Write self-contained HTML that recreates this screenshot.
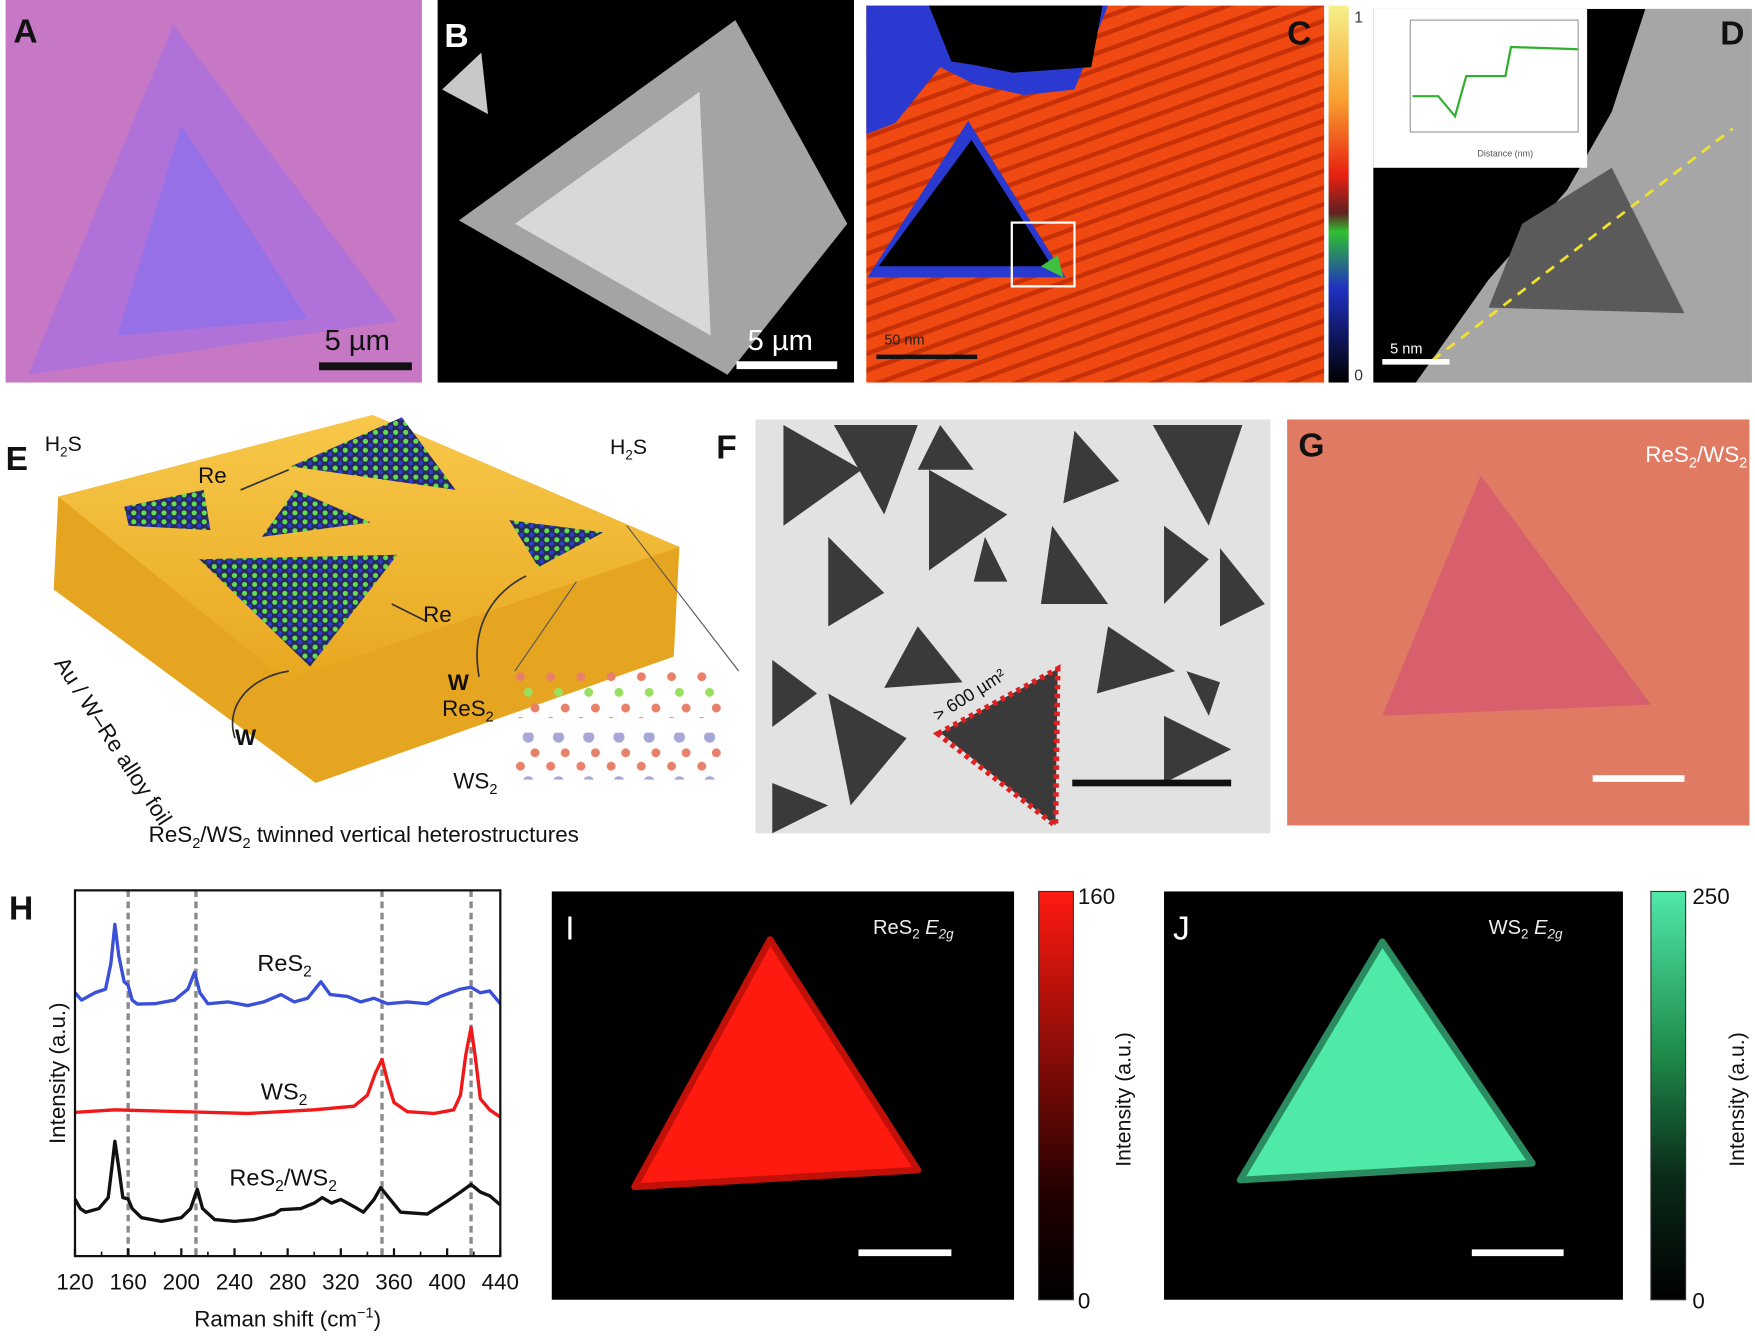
<!DOCTYPE html>
<html><head><meta charset="utf-8"><style>
html,body{margin:0;padding:0;background:#fff;}
svg{display:block;font-family:"Liberation Sans",Arial,sans-serif;}
</style></head><body>
<svg id="fig" width="1755" height="1340" viewBox="0 0 1568 1198" preserveAspectRatio="none">
<defs>
<linearGradient id="cbC" x1="0" y1="0" x2="0" y2="1"><stop offset="0" stop-color="#f6f08a"/><stop offset="0.25" stop-color="#f8a030"/><stop offset="0.45" stop-color="#e82010"/><stop offset="0.55" stop-color="#602020"/><stop offset="0.6" stop-color="#30c030"/><stop offset="0.75" stop-color="#2030c0"/><stop offset="1" stop-color="#000"/></linearGradient>
<linearGradient id="cbI" x1="0" y1="0" x2="0" y2="1"><stop offset="0" stop-color="#ff1a10"/><stop offset="0.75" stop-color="#200000"/><stop offset="1" stop-color="#000"/></linearGradient>
<linearGradient id="cbJ" x1="0" y1="0" x2="0" y2="1"><stop offset="0" stop-color="#50e8a8"/><stop offset="0.4" stop-color="#1e8a4a"/><stop offset="0.7" stop-color="#0a2a18"/><stop offset="1" stop-color="#000"/></linearGradient>
<linearGradient id="gold" x1="0" y1="0" x2="0" y2="1"><stop offset="0" stop-color="#f8c84a"/><stop offset="1" stop-color="#e8a820"/></linearGradient>
<pattern id="stripes" width="14" height="14" patternUnits="userSpaceOnUse" patternTransform="rotate(-20)"><rect width="14" height="14" fill="#f04a12"/><rect width="14" height="4" fill="#c83008"/></pattern>
<pattern id="lat" width="9" height="8" patternUnits="userSpaceOnUse"><rect width="9" height="8" fill="#2a2a5a"/><circle cx="2.5" cy="2.5" r="2.3" fill="#60e050"/><circle cx="7" cy="6" r="2" fill="#2840d0"/></pattern>
<pattern id="rowdots" width="27" height="40" patternUnits="userSpaceOnUse"><circle cx="6" cy="5" r="4" fill="#e8806a"/><circle cx="19" cy="33" r="4" fill="#e8806a"/><circle cx="13" cy="19" r="4" fill="#9ae060"/></pattern>
<pattern id="rowdots2" width="27" height="40" patternUnits="userSpaceOnUse"><circle cx="6" cy="5" r="4" fill="#e8806a"/><circle cx="19" cy="33" r="4" fill="#e8806a"/><circle cx="13" cy="19" r="5" fill="#a8a8d8"/></pattern>
</defs>

<!-- Panel A -->
<g>
<rect x="5" y="0" width="372" height="342" fill="#c678c4"/>
<polygon points="155,22 25,335 355,287" fill="#b072d8"/>
<polygon points="162,112 105,300 275,285" fill="#9670e6"/>
<text x="12" y="38" font-size="30" font-weight="bold" fill="#111">A</text>
<text x="290" y="313" font-size="26" fill="#111">5 µm</text>
<rect x="285" y="324" width="83" height="7" fill="#111"/>
</g>

<!-- Panel B -->
<g>
<rect x="391" y="0" width="372" height="342" fill="#000"/>
<polygon points="657,18 410,197 650,335 757,200" fill="#a4a4a4"/>
<polygon points="625,82 460,200 635,300" fill="#d8d8d8"/>
<polygon points="395,80 430,47 436,102" fill="#c8c8c8"/>
<text x="397" y="42" font-size="30" font-weight="bold" fill="#fff">B</text>
<text x="668" y="313" font-size="26" fill="#fff">5 µm</text>
<rect x="658" y="323" width="90" height="7" fill="#fff"/>
</g>

<!-- Panel C -->
<g>
<rect x="774" y="5" width="409" height="337" fill="url(#stripes)"/>
<polygon points="774,5 990,5 960,80 915,85 870,75 840,60 800,110 774,120" fill="#2a3ad0"/>
<polygon points="830,5 985,5 975,60 905,65 870,58 850,55" fill="#000"/>
<polygon points="865,108 775,248 952,248" fill="#2a3ad0"/>
<polygon points="868,125 785,238 940,238" fill="#000"/>
<polygon points="930,238 945,228 950,248" fill="#40c040"/>
<rect x="904" y="199" width="56" height="57" fill="none" stroke="#fff" stroke-width="2"/>
<text x="1150" y="40" font-size="30" font-weight="bold" fill="#111">C</text>
<text x="790" y="308" font-size="13" fill="#222">50 nm</text>
<rect x="783" y="317" width="90" height="4" fill="#111"/>
<rect x="1187" y="5" width="18" height="337" fill="url(#cbC)"/>
<text x="1210" y="20" font-size="14" fill="#333">1</text>
<text x="1210" y="340" font-size="14" fill="#333">0</text>
</g>

<!-- Panel D -->
<g>
<rect x="1227" y="8" width="338" height="334" fill="#000"/>
<polygon points="1470,8 1565,8 1565,342 1265,342 1330,250 1400,170 1440,100" fill="#a6a6a6"/>
<polygon points="1360,200 1440,150 1505,280 1330,275" fill="#5a5a5a"/>
<rect x="1227" y="8" width="191" height="142" fill="#fff"/>
<polyline points="1262,86 1285,86 1300,104 1310,68 1330,68 1345,68 1350,42 1410,44" fill="none" stroke="#30b030" stroke-width="2"/>
<rect x="1260" y="18" width="150" height="100" fill="none" stroke="#999"/>
<text x="1320" y="140" font-size="8" fill="#555">Distance (nm)</text>
<line x1="1280" y1="322" x2="1548" y2="115" stroke="#f0e030" stroke-width="2.5" stroke-dasharray="9,7"/>
<text x="1537" y="40" font-size="30" font-weight="bold" fill="#111">D</text>
<text x="1242" y="316" font-size="13" fill="#fff">5 nm</text>
<rect x="1235" y="321" width="60" height="5" fill="#fff"/>
</g>

<!-- Panel E -->
<g>
<polygon points="48,527 52,444 333,371 607,489 602,587 282,700" fill="#e6a520"/>
<polygon points="52,444 333,371 607,489 256,608" fill="url(#gold)"/>
<polygon points="260,417 359,373 407,438" fill="url(#lat)"/>
<polygon points="111,453 182,438 188,474 115,470" fill="url(#lat)"/>
<polygon points="264,438 234,480 331,467" fill="url(#lat)"/>
<polygon points="178,500 355,496 277,596" fill="url(#lat)"/>
<polygon points="455,465 539,476 481,507" fill="url(#lat)"/>
<line x1="215" y1="438" x2="258" y2="420" stroke="#333" stroke-width="1.5"/>
<line x1="380" y1="555" x2="350" y2="540" stroke="#333" stroke-width="1.5"/>
<path d="M210,660 C200,630 225,605 258,600" fill="none" stroke="#333" stroke-width="1.5"/>
<path d="M428,605 C420,560 440,530 470,515" fill="none" stroke="#333" stroke-width="1.5"/>
<text x="5" y="420" font-size="30" font-weight="bold" fill="#111">E</text>
<text x="40" y="403" font-size="19" fill="#111">H<tspan font-size="12" dy="5">2</tspan><tspan dy="-5">S</tspan></text>
<text x="545" y="406" font-size="19" fill="#111">H<tspan font-size="12" dy="5">2</tspan><tspan dy="-5">S</tspan></text>
<text x="177" y="432" font-size="20" fill="#111">Re</text>
<text x="378" y="556" font-size="20" fill="#111">Re</text>
<text x="210" y="666" font-size="20" font-weight="bold" fill="#111">W</text>
<text x="400" y="617" font-size="20" font-weight="bold" fill="#111">W</text>
<text transform="translate(48,593) rotate(57)" font-size="20" fill="#111">Au / W–Re alloy foil</text>
<g>
<rect x="458" y="600" width="192" height="42" fill="url(#rowdots)"/>
<rect x="458" y="655" width="192" height="42" fill="url(#rowdots2)"/>
<line x1="515" y1="520" x2="460" y2="600" stroke="#555"/><line x1="560" y1="470" x2="660" y2="600" stroke="#555"/>
</g>
<text x="395" y="640" font-size="20" fill="#111">ReS<tspan font-size="13" dy="5">2</tspan></text>
<text x="405" y="705" font-size="20" fill="#111">WS<tspan font-size="13" dy="5">2</tspan></text>
<text x="325" y="753" font-size="20" fill="#111" text-anchor="middle">ReS<tspan font-size="13" dy="5">2</tspan><tspan dy="-5">/WS</tspan><tspan font-size="13" dy="5">2</tspan><tspan dy="-5"> twinned vertical heterostructures</tspan></text>
</g>

<!-- Panel F -->
<g>
<text x="640" y="410" font-size="30" font-weight="bold" fill="#111">F</text>
<rect x="675" y="375" width="460" height="370" fill="#e2e2e2"/>
<g fill="#3a3a3a">
<polygon points="700,380 770,420 700,470"/><polygon points="745,380 820,380 790,460"/>
<polygon points="840,380 870,420 820,420"/><polygon points="830,420 900,460 830,510"/>
<polygon points="740,480 790,530 740,560"/><polygon points="960,385 1000,430 950,450"/>
<polygon points="1030,380 1110,380 1080,470"/><polygon points="1040,470 1080,500 1040,540"/>
<polygon points="940,470 990,540 930,540"/><polygon points="1090,490 1130,540 1090,560"/>
<polygon points="820,560 860,610 790,615"/><polygon points="690,590 730,620 690,650"/>
<polygon points="740,620 810,660 760,720"/><polygon points="990,560 1050,600 980,620"/>
<polygon points="1040,640 1100,670 1040,700"/><polygon points="880,480 900,520 870,520"/>
<polygon points="1060,600 1090,610 1080,640"/><polygon points="690,700 740,720 690,745"/>
<polygon points="840,655 945,598 943,738"/>
</g>
<polygon points="838,656 945,598 943,738" fill="none" stroke="#e02020" stroke-width="5" stroke-dasharray="4,4"/>
<text transform="translate(838,645) rotate(-32)" font-size="16" fill="#111">&gt; 600 µm²</text>
<rect x="958" y="697" width="142" height="6" fill="#111"/>
</g>

<!-- Panel G -->
<g>
<rect x="1150" y="375" width="413" height="363" fill="#e07a62"/>
<polygon points="1323,425 1235,640 1475,630" fill="#d8606c"/>
<text x="1160" y="408" font-size="30" font-weight="bold" fill="#111">G</text>
<text x="1470" y="413" font-size="20" fill="#fff">ReS<tspan font-size="13" dy="5">2</tspan><tspan dy="-5">/WS</tspan><tspan font-size="13" dy="5">2</tspan></text>
<rect x="1423" y="693" width="82" height="6" fill="#fff"/>
</g>

<!-- Panel H chart -->
<g id="chartH">
<text x="8" y="822" font-size="30" font-weight="bold" fill="#111">H</text>
</g>

<!-- Panel I -->
<g>
<rect x="493" y="797" width="413" height="365" fill="#000"/>
<polygon points="688,840 567,1061 820,1046" fill="#ff1a10" stroke="#c01008" stroke-width="6" stroke-linejoin="round"/>
<text x="505" y="840" font-size="30" fill="#fff">I</text>
<text x="780" y="835" font-size="18" fill="#eee">ReS<tspan font-size="12" dy="4">2</tspan><tspan dy="-4" font-style="italic"> E</tspan><tspan font-size="12" dy="4" font-style="italic">2g</tspan></text>
<rect x="767" y="1117" width="83" height="6" fill="#fff"/>
<rect x="928" y="797" width="31" height="365" fill="url(#cbI)" stroke="#333"/>
<text x="963" y="808" font-size="20" fill="#111">160</text>
<text x="963" y="1170" font-size="20" fill="#111">0</text>
<text transform="translate(1010,983) rotate(-90)" font-size="19" fill="#111" text-anchor="middle">Intensity (a.u.)</text>
</g>

<!-- Panel J -->
<g>
<rect x="1040" y="797" width="410" height="365" fill="#000"/>
<polygon points="1235,842 1108,1055 1369,1040" fill="#50eaa8" stroke="#2a8a60" stroke-width="6" stroke-linejoin="round"/>
<text x="1048" y="840" font-size="30" fill="#fff">J</text>
<text x="1330" y="835" font-size="18" fill="#eee">WS<tspan font-size="12" dy="4">2</tspan><tspan dy="-4" font-style="italic"> E</tspan><tspan font-size="12" dy="4" font-style="italic">2g</tspan></text>
<rect x="1315" y="1117" width="82" height="6" fill="#fff"/>
<rect x="1475" y="797" width="31" height="365" fill="url(#cbJ)" stroke="#333"/>
<text x="1512" y="808" font-size="20" fill="#111">250</text>
<text x="1512" y="1170" font-size="20" fill="#111">0</text>
<text transform="translate(1558,983) rotate(-90)" font-size="19" fill="#111" text-anchor="middle">Intensity (a.u.)</text>
</g>
</svg>
<script>
// Raman spectra data (x in cm^-1, intensity in arbitrary 0-100 units)
const xTicks = [120,160,200,240,280,320,360,400,440];
const refLines = [160,211,351,418];
const resX = [120,125,135,143,147,150,153,157,160,163,167,180,195,205,210,214,220,235,250,262,275,285,295,305,312,325,335,345,355,370,385,395,410,418,425,432,440];
const resY = [72,70,72,73,80,90.7,82,75,74,70,68.9,69,70,73,77.6,72,69,69.5,68.5,69.5,71.5,69.5,70.5,75,71.5,71,69.5,70.5,69,69.5,69,71,73,73.5,72,72.5,69];
const wsX = [120,150,200,250,300,330,340,346,351,355,360,370,390,405,410,414,418,421,425,432,440];
const wsY = [39.3,40,39.5,39,40,41,44,50,53.8,48,42,39.5,39,40,44,55,62.5,55,43,40,38];
const hetX = [120,124,128,138,145,148,150,153,156,160,163,170,185,200,207,212,216,225,240,255,270,275,290,300,306,313,320,330,337,345,350,356,365,385,400,410,418,425,432,440];
const hetY = [15.6,13,12,13,16,25,31.4,24,16,15.6,13,10.5,9.5,10.5,13,18.3,13,10,9.5,10,11.5,12.7,13,14.5,16,14.5,15.5,13.5,12,15.5,18.7,16,12,11.5,15,17.5,19.6,17.5,16.5,14];

const NS='http://www.w3.org/2000/svg';
const g=document.getElementById('chartH');
const L=67,R=447,T=796,B=1123;
function sx(v){return L+(v-120)/320*(R-L);}
function sy(v){return B-v/100*(B-T);}
function mk(tag,attrs){const e=document.createElementNS(NS,tag);for(const k in attrs)e.setAttribute(k,attrs[k]);g.appendChild(e);return e;}

refLines.forEach(v=>{
  const l=mk('line',{x1:sx(v),x2:sx(v),y1:T,y2:B,stroke:'#8a8a8a','stroke-width':3,'stroke-dasharray':'6,4'});
  
  
});
function series(xs,ys,color,name){
  const p=mk('polyline',{points:xs.map((x,i)=>sx(x)+','+sy(ys[i])).join(' '),fill:'none',stroke:color,'stroke-width':3,'stroke-linejoin':'round'});
  
  
}
series(resX,resY,'#3a50d8','series-res2');
series(wsX,wsY,'#f01818','series-ws2');
series(hetX,hetY,'#111','series-res2-ws2');

const fr=mk('rect',{x:L,y:T,width:R-L,height:B-T,fill:'none',stroke:'#111','stroke-width':2});


xTicks.forEach(v=>{
  mk('line',{x1:sx(v),x2:sx(v),y1:B,y2:B-7,stroke:'#111','stroke-width':2});
  const t=mk('text',{x:sx(v),y:B+30,'font-size':20,'text-anchor':'middle',fill:'#111'});
  t.textContent=v;
  
  
});
for(let v=140;v<440;v+=40){mk('line',{x1:sx(v),x2:sx(v),y1:B,y2:B-4,stroke:'#111','stroke-width':1.5});}

const xt=mk('text',{x:(L+R)/2,y:B+63,'font-size':20,'text-anchor':'middle',fill:'#111'});
xt.innerHTML='Raman shift (cm<tspan font-size="13" dy="-8">−1</tspan><tspan dy="8">)</tspan>';


const yt=mk('text',{transform:'translate(58,'+((T+B)/2)+') rotate(-90)','font-size':20,'text-anchor':'middle',fill:'#111'});
yt.textContent='Intensity (a.u.)';



function lab(x,y,html,name){const t=mk('text',{x:x,y:y,'font-size':21,fill:'#111'});t.innerHTML=html;
  
  }
lab(230,868,'ReS<tspan font-size="14" dy="5">2</tspan>','label-res2');
lab(233,983,'WS<tspan font-size="14" dy="5">2</tspan>','label-ws2');
lab(205,1060,'ReS<tspan font-size="14" dy="5">2</tspan><tspan dy="-5">/WS</tspan><tspan font-size="14" dy="5">2</tspan>','label-heterostructure');
</script>
</body></html>
